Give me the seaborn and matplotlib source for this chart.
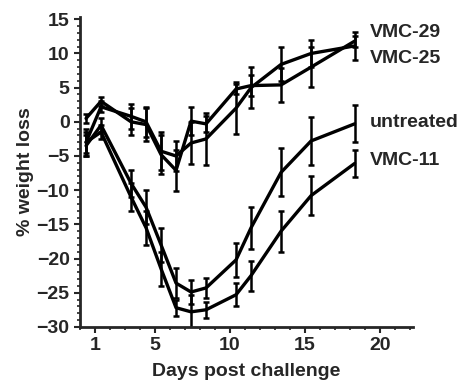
import numpy as np
import pandas as pd
import matplotlib
matplotlib.use("Agg")
import matplotlib.pyplot as plt
import seaborn as sns
from matplotlib.ticker import MultipleLocator, FixedLocator

# days post challenge (as plotted)
days = [0.4, 1.4, 3.4, 4.4, 5.4, 6.4, 7.4, 8.4, 10.4, 11.4, 13.4, 15.4, 18.3]

vmc29 = [0.5, 3.0, 0.0, -0.4, -4.8, -7.1, 0.1, -0.3, 4.8, 5.3, 5.4, 8.0, 11.8]
vmc29_err = [0.7, 0.7, 2.0, 2.4, 2.8, 3.0, 2.0, 1.2, 0.8, 1.5, 2.5, 2.9, 0.8]

vmc25 = [-3.0, 2.2, 0.8, 0.0, -4.3, -5.0, -3.1, -2.5, 2.0, 5.0, 8.4, 10.0, 11.1]
vmc25_err = [2.0, 0.8, 1.8, 2.2, 2.8, 2.2, 3.0, 3.8, 3.8, 3.0, 2.5, 2.0, 2.1]

untreated = [-3.5, -0.5, -9.0, -12.5, -18.0, -23.6, -24.9, -24.3, -20.2, -15.5, -7.4, -2.8, -0.3]
untreated_err = [1.5, 1.0, 2.0, 2.5, 2.5, 2.2, 1.8, 1.5, 2.5, 3.1, 3.5, 3.5, 2.7]

vmc11 = [-3.0, -1.5, -11.0, -15.5, -21.5, -27.2, -27.8, -27.5, -25.3, -22.5, -16.0, -10.8, -6.1]
vmc11_err = [1.5, 1.0, 2.0, 2.5, 2.5, 1.2, 2.5, 1.2, 1.7, 2.2, 3.0, 2.8, 2.0]

names = ["VMC-29", "VMC-25", "untreated", "VMC-11"]
label_y = [13.0, 9.3, -0.15, -5.7]

series = {"VMC-29": (vmc29, vmc29_err), "VMC-25": (vmc25, vmc25_err),
          "untreated": (untreated, untreated_err), "VMC-11": (vmc11, vmc11_err)}

rows = []
for name in names:
    vals, errs = series[name]
    for d, v, e in zip(days, vals, errs):
        rows.append({"day": d, "loss": v, "err": e, "group": name})
df = pd.DataFrame(rows)

sns.set_style("ticks")
plt.rcParams["font.family"] = ["Liberation Sans", "DejaVu Sans"]
plt.rcParams["font.weight"] = "bold"

fig = plt.figure(figsize=(4.6, 3.85), dpi=100)
ax = fig.add_axes([0.174, 0.151, 0.724, 0.806])

sns.lineplot(data=df, x="day", y="loss", hue="group", palette=["black"] * 4,
             linewidth=2.4, legend=False, ax=ax, errorbar=None)

for name in names:
    sub = df[df["group"] == name]
    ax.errorbar(sub["day"], sub["loss"], yerr=sub["err"], fmt="none",
                ecolor="black", elinewidth=1.8, capsize=2.5, capthick=1.8)

for name, ly in zip(names, label_y):
    ax.text(19.3, ly, name, fontsize=14, fontweight="bold", va="center", ha="left")

ax.set_xlim(0, 22.2)
ax.set_ylim(-30, 15.4)
ax.xaxis.set_major_locator(FixedLocator([1, 5, 10, 15, 20]))
ax.xaxis.set_minor_locator(MultipleLocator(1))
ax.yaxis.set_major_locator(MultipleLocator(5))
ax.yaxis.set_minor_locator(MultipleLocator(1))
ax.tick_params(axis="both", which="major", labelsize=14, width=1.5, length=4, direction="out")
ax.tick_params(axis="both", which="minor", width=1.2, length=2.5, direction="out")
for lab in ax.get_xticklabels() + ax.get_yticklabels():
    lab.set_fontweight("bold")

sns.despine(ax=ax)
ax.spines["left"].set_linewidth(2)
ax.spines["bottom"].set_linewidth(2)

ax.set_xlabel("Days post challenge", fontsize=14, fontweight="bold", labelpad=6)
ax.set_ylabel("% weight loss", fontsize=14, fontweight="bold", labelpad=2)

fig.savefig("out.png", dpi=100)
